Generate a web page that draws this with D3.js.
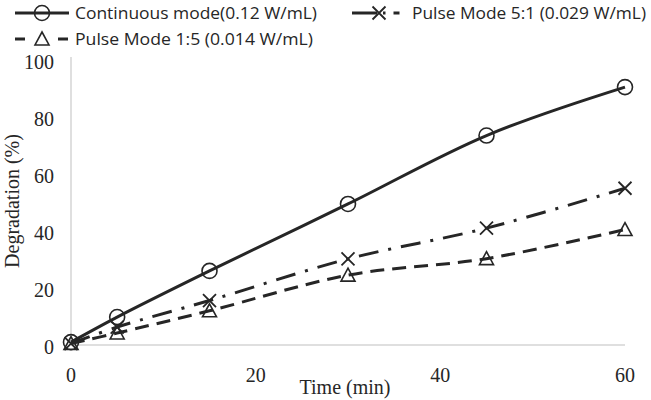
<!DOCTYPE html>
<html>
<head>
<meta charset="utf-8">
<script src="https://cdn.jsdelivr.net/npm/d3@7"></script>
<style>
  body { margin: 0; background: #fff; }
  svg { display: block; }
</style>
</head>
<body>
<svg id="chart" width="651" height="400"></svg>
<script>
const times = [0, 5, 15, 30, 45, 60];
const continuous = [1, 9.8, 26, 49.5, 73.5, 90.5];
const pulse51 = [0.5, 6.3, 15.6, 30.2, 41, 55];
const pulse15 = [0.5, 4.2, 12, 24.5, 30.3, 40.5];
const xTicks = [0, 20, 40, 60];
const yTicks = [0, 20, 40, 60, 80, 100];
const seriesNames = ["Continuous mode(0.12 W/mL)", "Pulse Mode 5:1 (0.029 W/mL)", "Pulse Mode 1:5 (0.014 W/mL)"];

const svg = d3.select("#chart");
const x = d3.scaleLinear().domain([0, 60]).range([71, 625]);
const y = d3.scaleLinear().domain([0, 100]).range([345, 60]);
const ink = "#262626";
const axisGrey = "#d4d4d4";

// axis lines
svg.append("line").attr("x1", x(0)).attr("x2", x(0)).attr("y1", y(100) - 3).attr("y2", y(0))
  .attr("stroke", axisGrey).attr("stroke-width", 1.5);
svg.append("line").attr("x1", x(0)).attr("x2", x(60)).attr("y1", y(0)).attr("y2", y(0))
  .attr("stroke", axisGrey).attr("stroke-width", 1.5);

// tick labels
const serif = "'Liberation Serif', 'Times New Roman', serif";
svg.append("g").selectAll("text").data(yTicks).join("text")
  .attr("x", 54).attr("y", d => y(d) + 2).attr("dy", "0.35em")
  .attr("text-anchor", "end").attr("font-family", serif).attr("font-size", 20)
  .attr("fill", ink).text(d => d);
svg.append("g").selectAll("text").data(xTicks).join("text")
  .attr("x", d => x(d)).attr("y", 375).attr("dy", "0.35em")
  .attr("text-anchor", "middle").attr("font-family", serif).attr("font-size", 20)
  .attr("fill", ink).text(d => d);

// axis titles
svg.append("text").attr("x", 345).attr("y", 387).attr("dy", "0.35em").attr("text-anchor", "middle")
  .attr("font-family", serif).attr("font-size", 20).attr("fill", ink).text("Time (min)");
svg.append("text").attr("transform", "translate(12,201) rotate(-90)").attr("dy", "0.35em").attr("text-anchor", "middle")
  .attr("font-family", serif).attr("font-size", 20).attr("fill", ink).text("Degradation (%)");

const series = [
  { name: seriesNames[0], values: continuous, dash: null, marker: "circle" },
  { name: seriesNames[1], values: pulse51, dash: "20,10,3,10", marker: "x" },
  { name: seriesNames[2], values: pulse15, dash: "14,8", marker: "tri" }
];

const line = d3.line().x(d => x(d[0])).y(d => y(d[1])).curve(d3.curveCatmullRom.alpha(0.5));

function drawMarker(g, type, cx, cy) {
  if (type === "circle") {
    g.append("circle").attr("cx", cx).attr("cy", cy).attr("r", 7.5)
      .attr("fill", "none").attr("stroke", ink).attr("stroke-width", 1.6);
  } else if (type === "x") {
    const s = 6.5;
    g.append("path").attr("d", `M${cx - s},${cy - s}L${cx + s},${cy + s}M${cx - s},${cy + s}L${cx + s},${cy - s}`)
      .attr("stroke", ink).attr("stroke-width", 1.8).attr("fill", "none");
  } else {
    const s = 7;
    g.append("path").attr("d", `M${cx},${cy - s}L${cx + s},${cy + s * 0.85}L${cx - s},${cy + s * 0.85}Z`)
      .attr("stroke", ink).attr("stroke-width", 1.6).attr("fill", "none");
  }
}

series.forEach(s => {
  const pts = times.map((t, i) => [t, s.values[i]]);
  const p = svg.append("path").attr("d", line(pts)).attr("fill", "none")
    .attr("stroke", ink).attr("stroke-width", 3);
  if (s.dash) p.attr("stroke-dasharray", s.dash);
  const g = svg.append("g");
  pts.forEach(d => drawMarker(g, s.marker, x(d[0]), y(d[1])));
});

// legend
const sans = "'Open Sans', 'Noto Sans', sans-serif";
const legendItems = [
  { s: series[0], lx: 15, ly: 13, tx: 75, tw: 242, dash: null },
  { s: series[1], lx: 352, ly: 13, tx: 412, tw: 234, dash: "25,6,2.5,8,6,100" },
  { s: series[2], lx: 15, ly: 39, tx: 75, tw: 238, dash: "10,33,10" }
];
legendItems.forEach(it => {
  const g = svg.append("g");
  const l = g.append("line").attr("x1", it.lx).attr("x2", it.lx + 54).attr("y1", it.ly).attr("y2", it.ly)
    .attr("stroke", ink).attr("stroke-width", 3);
  if (it.dash) l.attr("stroke-dasharray", it.dash);
  drawMarker(g, it.s.marker, it.lx + 27, it.ly);
  g.append("text").attr("x", it.tx).attr("y", it.ly).attr("dy", "0.36em")
    .attr("font-family", sans).attr("font-size", 17).attr("fill", ink)
    .attr("textLength", it.tw).attr("lengthAdjust", "spacingAndGlyphs")
    .text(it.s.name);
});
</script>
</body>
</html>
